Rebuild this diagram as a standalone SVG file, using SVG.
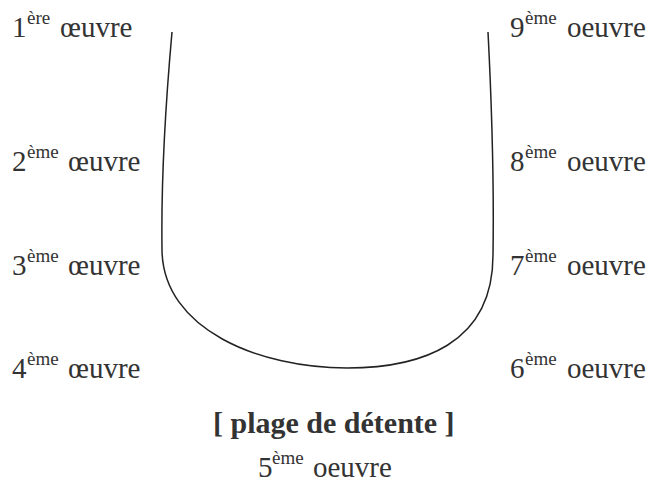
<svg xmlns="http://www.w3.org/2000/svg" width="649" height="487" viewBox="0 0 649 487">
<rect width="649" height="487" fill="#fff"/>
<g id="connectors">
<path fill="none" stroke="#222" stroke-width="1.5" d="M172,32 C165,110 161,180 162,250 C163,330 260,368 347,368 C420,368 493,345 493,255 C494,190 492,110 488,32"/>
</g>
<g id="n1"><text x="12" y="37" font-family="serif" font-size="29" fill="#333">1</text><text x="27" y="24" font-family="serif" font-size="19" fill="#333">ère</text><text x="60" y="37" font-family="serif" font-size="29" fill="#333">œuvre</text></g>
<g id="n2"><text x="12" y="171" font-family="serif" font-size="29" fill="#333">2</text><text x="27" y="158" font-family="serif" font-size="19" fill="#333">ème</text><text x="68" y="171" font-family="serif" font-size="29" fill="#333">œuvre</text></g>
<g id="n3"><text x="12" y="275" font-family="serif" font-size="29" fill="#333">3</text><text x="27" y="262" font-family="serif" font-size="19" fill="#333">ème</text><text x="68" y="275" font-family="serif" font-size="29" fill="#333">œuvre</text></g>
<g id="n4"><text x="12" y="378" font-family="serif" font-size="29" fill="#333">4</text><text x="27" y="365" font-family="serif" font-size="19" fill="#333">ème</text><text x="68" y="378" font-family="serif" font-size="29" fill="#333">œuvre</text></g>
<g id="n9"><text x="510" y="37" font-family="serif" font-size="29" fill="#333">9</text><text x="525" y="24" font-family="serif" font-size="19" fill="#333">ème</text><text x="567" y="37" font-family="serif" font-size="29" fill="#333">oeuvre</text></g>
<g id="n8"><text x="510" y="171" font-family="serif" font-size="29" fill="#333">8</text><text x="525" y="158" font-family="serif" font-size="19" fill="#333">ème</text><text x="567" y="171" font-family="serif" font-size="29" fill="#333">oeuvre</text></g>
<g id="n7"><text x="510" y="275" font-family="serif" font-size="29" fill="#333">7</text><text x="525" y="262" font-family="serif" font-size="19" fill="#333">ème</text><text x="567" y="275" font-family="serif" font-size="29" fill="#333">oeuvre</text></g>
<g id="n6"><text x="510" y="378" font-family="serif" font-size="29" fill="#333">6</text><text x="525" y="365" font-family="serif" font-size="19" fill="#333">ème</text><text x="567" y="378" font-family="serif" font-size="29" fill="#333">oeuvre</text></g>
<g id="detente"><text x="213" y="433" font-family="serif" font-size="30" font-weight="bold" fill="#333">[ plage de détente ]</text></g>
<g id="n5"><text x="258" y="477" font-family="serif" font-size="29" fill="#333">5</text><text x="272" y="464" font-family="serif" font-size="19" fill="#333">ème</text><text x="313" y="477" font-family="serif" font-size="29" fill="#333">oeuvre</text></g>
</svg>
